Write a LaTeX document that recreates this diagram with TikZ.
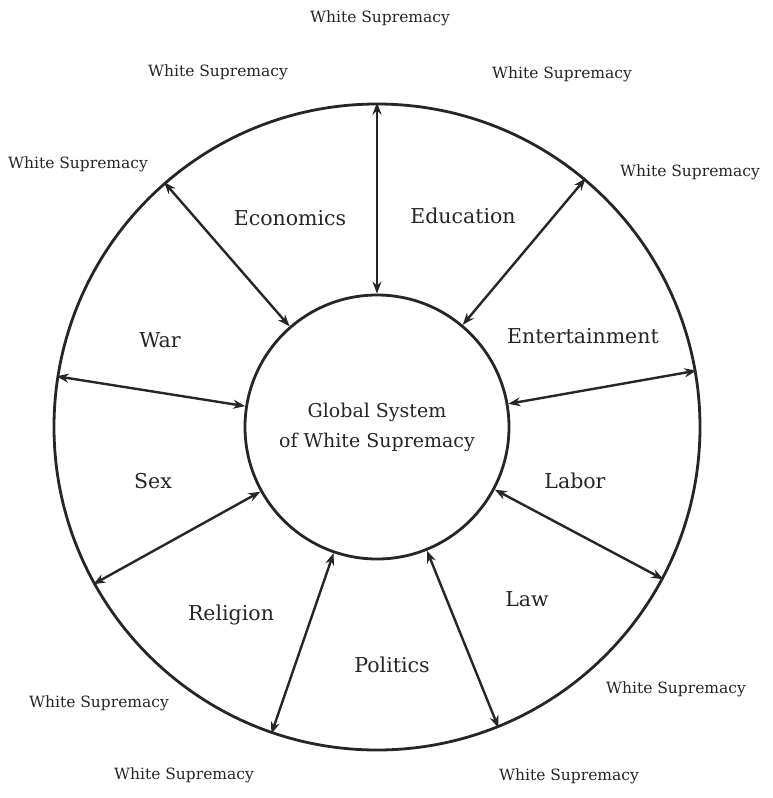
\documentclass[tikz,border=0pt]{standalone}
\usepackage{fontspec}
\setmainfont{DejaVu Serif}
\usetikzlibrary{arrows.meta}
\begin{document}
\begin{tikzpicture}[x=1pt,y=-1pt,
  ring/.style={draw=black!85,line width=2.8pt},
  link/.style={draw=black!85,line width=2.4pt,{Stealth[length=12pt,width=9pt]}-{Stealth[length=12pt,width=9pt]}},
  cat/.style={font=\fontsize{20.5}{24}\selectfont,text=black!85},
  ws/.style={font=\fontsize{15.5}{18}\selectfont,text=black!85}]
\useasboundingbox[fill=white] (0,0) rectangle (773,798);
\coordinate (c) at (377,427);
\node[ring,circle,minimum size=646pt,inner sep=0pt] (outer) at (c) {};
\node[ring,circle,minimum size=264pt,inner sep=0pt,align=center,font=\fontsize{19}{30}\selectfont,text=black!85] (inner) at (c) {Global System\\of White Supremacy};
\foreach \a in {90,50.5,10,-28,-68.5,-109.5,-151,171,131}{
  \draw[link] (inner.\a) -- (outer.\a);
}
\node[cat] (econ) at (290,218) {Economics};
\node[cat] (edu) at (463,216) {Education};
\node[cat] (ent) at (583,336) {Entertainment};
\node[cat] (war) at (160,340) {War};
\node[cat] (lab) at (575,481) {Labor};
\node[cat] (sex) at (153,481) {Sex};
\node[cat] (law) at (527,599) {Law};
\node[cat] (rel) at (231,615) {Religion};
\node[cat] (pol) at (392,665) {Politics};
\node[ws] (w1) at (380,18) {White Supremacy};
\node[ws] (w2) at (218,72) {White Supremacy};
\node[ws] (w3) at (562,74) {White Supremacy};
\node[ws] (w4) at (78,164) {White Supremacy};
\node[ws] (w5) at (690,172) {White Supremacy};
\node[ws] (w6) at (99,703) {White Supremacy};
\node[ws] (w7) at (676,689) {White Supremacy};
\node[ws] (w8) at (184,775) {White Supremacy};
\node[ws] (w9) at (569,776) {White Supremacy};
\end{tikzpicture}
\end{document}
